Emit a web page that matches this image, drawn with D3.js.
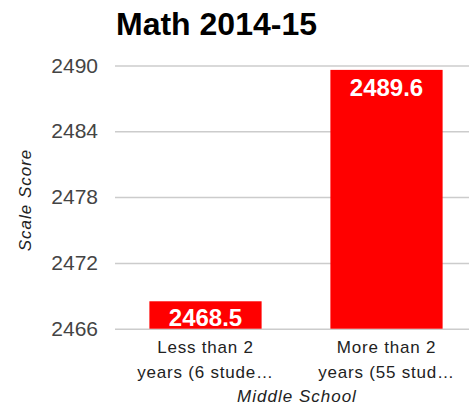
<!DOCTYPE html>
<html>
<head>
<meta charset="utf-8">
<script src="https://cdn.jsdelivr.net/npm/d3@7"></script>
<style>
  body { margin: 0; background: #fff; }
  #chart { width: 469px; height: 409px; }
</style>
</head>
<body>
<div id="chart"></div>
<script>
// data
const categories = ["Less than 2 years (6 students)", "More than 2 years (55 students)"];
const lineOne = ["Less than 2", "More than 2"];
const lineTwo = ["years (6 stude\u2026", "years (55 stud\u2026"];
const scores = [2468.5, 2489.6];
const yTicks = [2466, 2472, 2478, 2484, 2490];

let div = document.getElementById("chart");
let svg = d3.select(div).append("svg")
    .attr("width", 469)
    .attr("height", 409)
    .style("font-family", "'Liberation Sans', Arial, sans-serif");

let x = d3.scaleBand().domain(categories).range([115, 477]).paddingInner(0.38).paddingOuter(0.19);
let y = d3.scaleLinear().domain([2466, 2490]).range([328.7, 65.5]);

// gridlines
let gridY = d3.axisLeft(y).tickValues(yTicks).tickSize(-(469 - 115)).tickFormat("");
svg.append("g")
    .attr("transform", "translate(115,0)")
    .call(gridY)
    .call(g => g.select(".domain").remove())
    .call(g => g.selectAll("line").attr("stroke", "#cccccc").attr("stroke-width", 1.5));

// tick labels
svg.append("g").selectAll("text").data(yTicks).enter()
    .append("text")
    .attr("x", 98)
    .attr("y", d => y(d) + 7)
    .attr("text-anchor", "end")
    .attr("font-size", 21)
    .attr("fill", "#444")
    .text(d => d);

// bars
svg.append("g").selectAll("rect").data(scores).enter()
    .append("rect")
    .attr("x", (d, i) => x(categories[i]))
    .attr("y", d => y(d))
    .attr("width", x.bandwidth())
    .attr("height", d => y(2466) - y(d))
    .attr("fill", "#ff0000");

// value labels
svg.append("g").selectAll("text").data(scores).enter()
    .append("text")
    .attr("x", (d, i) => x(categories[i]) + x.bandwidth() / 2)
    .attr("y", (d, i) => i == 0 ? y(2466) - 2.5 : y(d) + 26)
    .attr("text-anchor", "middle")
    .attr("font-size", 24)
    .attr("font-weight", "bold")
    .attr("fill", "#fff")
    .text(d => d.toFixed(1));

// category labels
let cat = svg.append("g").selectAll("g").data(categories).enter().append("g");
cat.append("text")
    .attr("x", d => x(d) + x.bandwidth() / 2)
    .attr("y", 353)
    .attr("text-anchor", "middle")
    .attr("font-size", 17)
    .attr("letter-spacing", 0.8)
    .attr("fill", "#222")
    .text((d, i) => lineOne[i]);
cat.append("text")
    .attr("x", d => x(d) + x.bandwidth() / 2)
    .attr("y", 378)
    .attr("text-anchor", "middle")
    .attr("font-size", 17)
    .attr("letter-spacing", 0.8)
    .attr("fill", "#222")
    .text((d, i) => lineTwo[i]);

// x axis title
svg.append("text")
    .attr("x", 297)
    .attr("y", 402)
    .attr("text-anchor", "middle")
    .attr("font-size", 17)
    .attr("font-style", "italic")
    .attr("letter-spacing", 1)
    .attr("fill", "#222")
    .text("Middle School");

// y axis title
svg.append("text")
    .attr("transform", "translate(31,200) rotate(-90)")
    .attr("text-anchor", "middle")
    .attr("font-size", 17)
    .attr("font-style", "italic")
    .attr("letter-spacing", 1)
    .attr("fill", "#222")
    .text("Scale Score");

// title
svg.append("text")
    .attr("x", 116)
    .attr("y", 35)
    .attr("font-size", 32)
    .attr("font-weight", "bold")
    .attr("fill", "#000")
    .text("Math 2014-15");
</script>
</body>
</html>
